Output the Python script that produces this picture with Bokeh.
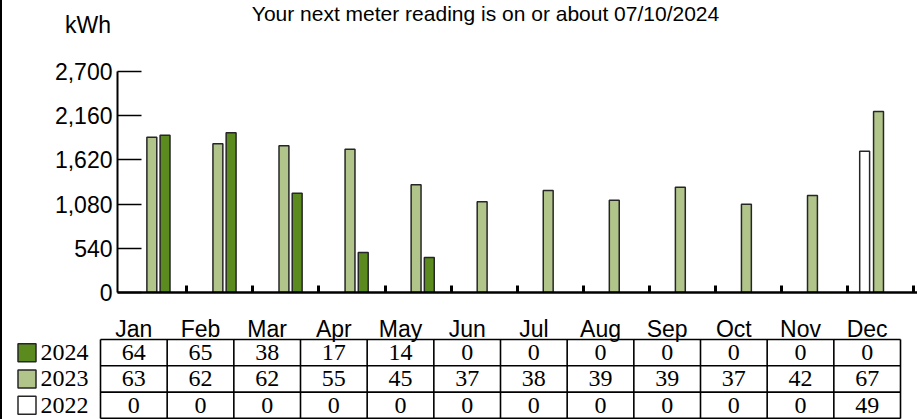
from bokeh.plotting import figure
from bokeh.models import Range1d, FixedTicker, NumeralTickFormatter
from bokeh.layouts import column
from bokeh.embed import file_html
from bokeh.resources import INLINE
from bokeh.core.properties import value

# ---------------- data ----------------
months = ["Jan", "Feb", "Mar", "Apr", "May", "Jun", "Jul", "Aug", "Sep", "Oct", "Nov", "Dec"]
years = ["2024", "2023", "2022"]
kwh_2024 = [1922, 1951, 1214, 489, 428, 0, 0, 0, 0, 0, 0, 0]
kwh_2023 = [1898, 1817, 1793, 1751, 1316, 1108, 1246, 1128, 1287, 1079, 1185, 2212]
kwh_2022 = [0, 0, 0, 0, 0, 0, 0, 0, 0, 0, 0, 1727]
avg_2024 = [64, 65, 38, 17, 14, 0, 0, 0, 0, 0, 0, 0]
avg_2023 = [63, 62, 62, 55, 45, 37, 38, 39, 39, 37, 42, 67]
avg_2022 = [0, 0, 0, 0, 0, 0, 0, 0, 0, 0, 0, 49]
y_ticks = [0, 540, 1080, 1620, 2160, 2700]
title_text = "Your next meter reading is on or about 07/10/2024"
unit_label = "kWh"

colors = {"2024": "#5B8A1E", "2023": "#B1C58A", "2022": "#FFFFFF"}
offsets = {"2022": -0.21, "2023": 0.0, "2024": 0.2}
kwh = {"2024": kwh_2024, "2023": kwh_2023, "2022": kwh_2022}
avg = {"2024": avg_2024, "2023": avg_2023, "2022": avg_2022}

FONT = "Liberation Sans"
NARROW = "Liberation Sans Narrow"
W = 915

# ---------------- header (title + unit) ----------------
h = figure(width=W, height=40, output_backend="svg", toolbar_location=None,
           x_range=Range1d(0, W), y_range=Range1d(40, 0),
           x_axis_location=None, y_axis_location=None, min_border=0)
h.frame_align = False
h.outline_line_color = None
h.grid.visible = False
h.text(x=[483], y=[13], text=[title_text], text_font=value(FONT), text_font_size=value("21px"),
       text_align="center", text_baseline="middle", text_color="black")
h.text(x=[85.5], y=[24], text=[unit_label], text_font=value(FONT), text_font_size=value("23px"),
       text_align="center", text_baseline="middle", text_color="black")

# ---------------- chart ----------------
p = figure(width=W, height=266, output_backend="svg", toolbar_location=None,
           x_range=Range1d(-0.0197, 12.09), y_range=Range1d(0, 2700),
           min_border_left=115, min_border_right=0, min_border_top=31, min_border_bottom=14)
p.frame_align = False
p.outline_line_color = None
p.grid.visible = False

for yr in ["2022", "2023", "2024"]:
    vals = kwh[yr]
    xs = [i + 0.5 + offsets[yr] for i, v in enumerate(vals) if v > 0]
    tops = [v for v in vals if v > 0]
    p.vbar(x=xs, top=tops, bottom=0, width=0.15, fill_color=colors[yr],
           line_color="#262626", line_width=1.5)

ya = p.yaxis[0]
ya.ticker = FixedTicker(ticks=y_ticks)
ya.formatter = NumeralTickFormatter(format="0,0")
ya.major_label_text_font = FONT
ya.major_label_text_font_size = "23px"
ya.major_label_text_color = "black"
ya.major_tick_in = 24
ya.major_tick_out = 0
ya.major_tick_line_width = 1.5
ya.major_tick_line_color = "black"
ya.minor_tick_line_color = None
ya.axis_line_width = 2
ya.axis_line_color = "black"
ya.major_label_standoff = 5

x_ticks = [i + 1.03 for i in range(len(months))]
xa = p.xaxis[0]
xa.ticker = FixedTicker(ticks=x_ticks)
xa.major_label_overrides = {tk: "" for tk in x_ticks}
xa.major_label_text_font_size = "10px"
xa.major_label_standoff = 0
xa.major_tick_in = 7
xa.major_tick_out = 0
xa.major_tick_line_width = 3
xa.major_tick_line_color = "black"
xa.minor_tick_line_color = None
xa.axis_line_width = 2.5
xa.axis_line_color = "black"

# ---------------- table ----------------
t = figure(width=W, height=113, output_backend="svg", toolbar_location=None,
           x_range=Range1d(-1.47, 12.255), y_range=Range1d(3.0418, -1.2548),
           x_axis_location=None, y_axis_location=None, min_border=0)
t.frame_align = False
t.outline_line_color = None
t.grid.visible = False

n = len(months)
nr = len(years)
t.segment(x0=[0] * (nr + 1), y0=list(range(nr + 1)), x1=[n] * (nr + 1), y1=list(range(nr + 1)),
          line_color="black", line_width=1.6)
t.segment(x0=list(range(n + 1)), y0=[0] * (n + 1), x1=list(range(n + 1)), y1=[nr] * (n + 1),
          line_color="black", line_width=1.6)

t.text(x=[i + 0.5 for i in range(n)], y=[-0.418] * n, text=months,
       text_font=value(FONT), text_font_size=value("23px"), text_align="center",
       text_baseline="middle", text_color="black")

for r, yr in enumerate(years):
    t.text(x=[i + 0.5 for i in range(n)], y=[r + 0.5] * n, text=[str(v) for v in avg[yr]],
           text_font=value(NARROW), text_font_size=value("24px"), text_align="center",
           text_baseline="middle", text_color="black")

t.rect(x=[-1.1025] * nr, y=[r + 0.5 for r in range(nr)], width=18, height=18,
       width_units="screen", height_units="screen",
       fill_color=[colors[yr] for yr in years], line_color="#262626", line_width=1.5)
t.text(x=[-0.9] * nr, y=[r + 0.5 for r in range(nr)], text=years,
       text_font=value(NARROW), text_font_size=value("24px"), text_align="left",
       text_baseline="middle", text_color="black")

layout = column(h, p, t, styles={"border-left": "2px solid black"})

open("out.html", "w").write(file_html(layout, INLINE))
